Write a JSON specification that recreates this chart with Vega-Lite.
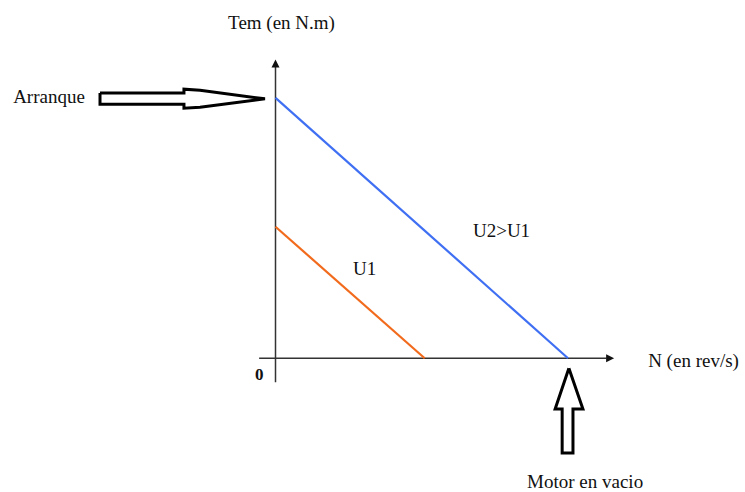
{
  "$schema": "https://vega.github.io/schema/vega-lite/v6.json",
  "width": 745,
  "height": 492,
  "autosize": {"type": "fit", "contains": "padding"},
  "padding": 0,
  "background": "white",
  "config": {
    "view": {"stroke": null},
    "text": {"font": "Liberation Serif", "fontSize": 19, "color": "#111111"}
  },
  "datasets": {
    "axes": [
      {"axis": "Tem", "x": 0, "y": -9.2, "x2": 0, "y2": 112.5},
      {"axis": "N", "x": -5.6, "y": 0, "x2": 113.2, "y2": 0}
    ],
    "heads": [
      {"axis": "Tem", "dir": "up", "x": 0, "y": 113.2},
      {"axis": "N", "dir": "right", "x": 114.4, "y": 0}
    ],
    "curves": [
      {"voltage": "U1", "N": 0, "Tem": 50.5},
      {"voltage": "U1", "N": 51, "Tem": 0},
      {"voltage": "U2", "N": 0, "Tem": 100},
      {"voltage": "U2", "N": 100, "Tem": 0}
    ],
    "callouts": [
      {"arrow": "Arranque", "i": 0, "N": -60.0, "Tem": 101.8},
      {"arrow": "Arranque", "i": 1, "N": -31.3, "Tem": 101.8},
      {"arrow": "Arranque", "i": 2, "N": -31.3, "Tem": 103.3},
      {"arrow": "Arranque", "i": 3, "N": -25.8, "Tem": 102.9},
      {"arrow": "Arranque", "i": 4, "N": -3.6, "Tem": 99.6},
      {"arrow": "Arranque", "i": 5, "N": -25.8, "Tem": 96.4},
      {"arrow": "Arranque", "i": 6, "N": -31.3, "Tem": 96.0},
      {"arrow": "Arranque", "i": 7, "N": -31.3, "Tem": 97.5},
      {"arrow": "Arranque", "i": 8, "N": -60.0, "Tem": 97.5},
      {"arrow": "Arranque", "i": 9, "N": -60.0, "Tem": 101.8},
      {"arrow": "Vacio", "i": 0, "N": 100.3, "Tem": -3.8},
      {"arrow": "Vacio", "i": 1, "N": 105.1, "Tem": -19.5},
      {"arrow": "Vacio", "i": 2, "N": 101.7, "Tem": -19.5},
      {"arrow": "Vacio", "i": 3, "N": 101.7, "Tem": -36.4},
      {"arrow": "Vacio", "i": 4, "N": 98.0, "Tem": -36.4},
      {"arrow": "Vacio", "i": 5, "N": 98.0, "Tem": -19.5},
      {"arrow": "Vacio", "i": 6, "N": 95.6, "Tem": -19.5},
      {"arrow": "Vacio", "i": 7, "N": 100.3, "Tem": -3.8}
    ],
    "labels": [
      {"text": "Tem (en N.m)", "N": -16.2, "Tem": 128.7},
      {"text": "Arranque", "N": -89.7, "Tem": 100.4},
      {"text": "N (en rev/s)", "N": 127.4, "Tem": -1.1},
      {"text": "U1", "N": 26.5, "Tem": 34.1},
      {"text": "U2>U1", "N": 67.5, "Tem": 49.0},
      {"text": "Motor en vacio", "N": 86.0, "Tem": -47.5}
    ],
    "origin": [
      {"text": "0", "N": -7.0, "Tem": -6.3}
    ]
  },
  "layer": [
    {
      "data": {"name": "axes"},
      "mark": {"type": "rule", "color": "#333333", "strokeWidth": 1.5},
      "encoding": {
        "x": {"field": "x", "type": "quantitative", "scale": {"domain": [-94.19, 160.51], "nice": false, "zero": false}, "axis": null},
        "y": {"field": "y", "type": "quantitative", "scale": {"domain": [-50.96, 137.55], "nice": false, "zero": false}, "axis": null},
        "x2": {"field": "x2"},
        "y2": {"field": "y2"}
      }
    },
    {
      "data": {"name": "heads"},
      "mark": {"type": "point", "filled": true, "color": "#111111", "opacity": 1, "size": 64},
      "encoding": {
        "x": {"field": "x", "type": "quantitative"},
        "y": {"field": "y", "type": "quantitative"},
        "shape": {
          "field": "dir",
          "type": "nominal",
          "scale": {"domain": ["up", "right"], "range": ["M0,-1L-1,1L1,1Z", "M1,0L-1,-1L-1,1Z"]},
          "legend": null
        }
      }
    },
    {
      "data": {"name": "curves"},
      "mark": {"type": "line", "strokeWidth": 2.2},
      "encoding": {
        "x": {"field": "N", "type": "quantitative"},
        "y": {"field": "Tem", "type": "quantitative"},
        "color": {
          "field": "voltage",
          "type": "nominal",
          "scale": {"domain": ["U1", "U2"], "range": ["#f26b1d", "#3f6ff2"]},
          "legend": null
        }
      }
    },
    {
      "data": {"name": "callouts"},
      "mark": {"type": "line", "color": "#000000", "strokeWidth": 3, "strokeJoin": "miter"},
      "encoding": {
        "x": {"field": "N", "type": "quantitative"},
        "y": {"field": "Tem", "type": "quantitative"},
        "detail": {"field": "arrow", "type": "nominal"},
        "order": {"field": "i", "type": "quantitative"}
      }
    },
    {
      "data": {"name": "labels"},
      "mark": {"type": "text", "align": "left", "baseline": "middle"},
      "encoding": {
        "x": {"field": "N", "type": "quantitative"},
        "y": {"field": "Tem", "type": "quantitative"},
        "text": {"field": "text", "type": "nominal"}
      }
    },
    {
      "data": {"name": "origin"},
      "mark": {"type": "text", "align": "left", "baseline": "middle", "fontWeight": "bold", "fontSize": 17},
      "encoding": {
        "x": {"field": "N", "type": "quantitative"},
        "y": {"field": "Tem", "type": "quantitative"},
        "text": {"field": "text", "type": "nominal"}
      }
    }
  ]
}
